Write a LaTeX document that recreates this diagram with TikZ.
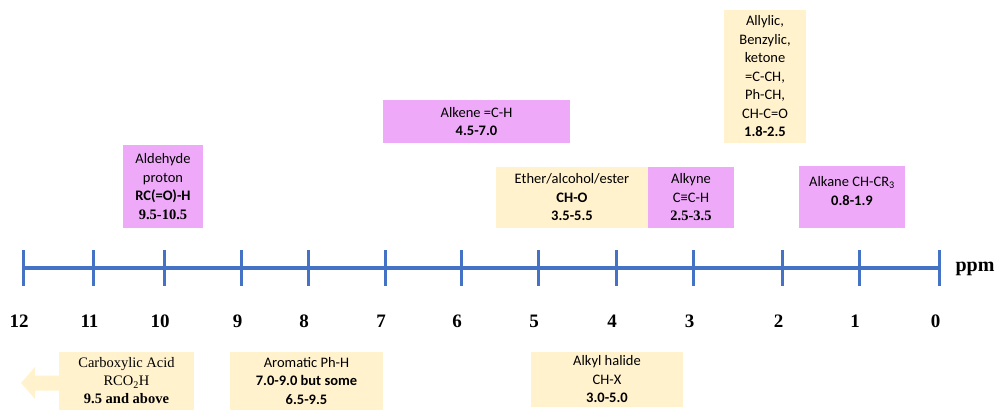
\documentclass[tikz,border=0pt]{standalone}
\usepackage{fontspec}
\setmainfont{Liberation Serif}
\newfontfamily\calibri{Carlito}
\usetikzlibrary{positioning}

\definecolor{axisblue}{RGB}{68,114,196}
\definecolor{pinkfill}{RGB}{238,170,248}
\definecolor{creamfill}{RGB}{255,242,204}

\begin{document}
\begin{tikzpicture}[x=1pt,y=-1pt,
    axis/.style={axisblue,line width=4pt},
    tickmark/.style={axisblue,line width=3pt},
    numlabel/.style={font=\bfseries\fontsize{19}{19}\selectfont},
    pinkbox/.style={fill=pinkfill,inner sep=0pt,align=center,
      font=\calibri\fontsize{14.5}{18.5}\selectfont},
    creambox/.style={fill=creamfill,inner sep=0pt,align=center,
      font=\calibri\fontsize{14.5}{18.5}\selectfont},
    serifbox/.style={creambox,font=\rmfamily\fontsize{14.5}{18}\selectfont}]
        \useasboundingbox (0,0) rectangle (999,410);

        % ppm axis
        \foreach \v/\x in {12/23,11/93.5,10/164,9/241.5,8/308,7/385,6/461,
            5/538,4/616,3/693.5,2/782.5,1/859,0/939.5} {
          \coordinate (t\v) at (\x,268);
          \draw[tickmark] (t\v) ++(0,-18) -- ++(0,36);
          \node[numlabel] (n\v) at (\x-4,321) {\v};
        }
        \draw[axis] (t12) -- (t0);
        \node[font=\bfseries\fontsize{20}{20}\selectfont] (ppm) at (975,269) {ppm};

        % regions above the axis
        \node[pinkbox,minimum width=80,minimum height=83] (ald) at (163,186.5)
          {Aldehyde\\proton\\\textbf{RC(=O)-H}\\{\rmfamily\bfseries 9.5-10.5}};
        \node[pinkbox,minimum width=187,minimum height=43] (alkene) at (476.5,121.5)
          {Alkene =C-H\\\textbf{4.5-7.0}};
        \node[creambox,minimum width=152,minimum height=61] (ether) at (572,197.5)
          {Ether/alcohol/ester\\\textbf{CH-O}\\\textbf{3.5-5.5}};
        \node[pinkbox,minimum width=86,minimum height=61] (alkyne) at (691,197.5)
          {Alkyne\\C≡C-H\\{\rmfamily\bfseries 2.5-3.5}};
        \node[creambox,minimum width=82,minimum height=133] (allyl) at (765,76.5)
          {Allylic,\\Benzylic,\\ketone\\=C-CH,\\Ph-CH,\\CH-C=O\\\textbf{1.8-2.5}};
        \node[pinkbox,minimum width=106,minimum height=62,text depth=12pt] (alkane) at (852,197)
          {Alkane CH-CR\textsubscript{3}\\\textbf{0.8-1.9}};

        % regions below the axis
        \node[serifbox,minimum width=135,minimum height=58] (carb) at (126.5,381)
          {Carboxylic Acid\\RCO\textsubscript{2}H\\\textbf{9.5 and above}};
        \fill[creamfill] (59,375.5) -- (35,375.5) -- (35,367) -- (21,383)
          -- (35,399) -- (35,390.5) -- (59,390.5) -- cycle;
        \node[creambox,minimum width=153,minimum height=58] (arom) at (306.5,381)
          {Aromatic Ph-H\\\textbf{7.0-9.0 but some}\\\textbf{6.5-9.5}};
        \node[creambox,minimum width=152,minimum height=55] (halide) at (607,379.5)
          {Alkyl halide\\CH-X\\\textbf{3.0-5.0}};
      \end{tikzpicture}
\end{document}
